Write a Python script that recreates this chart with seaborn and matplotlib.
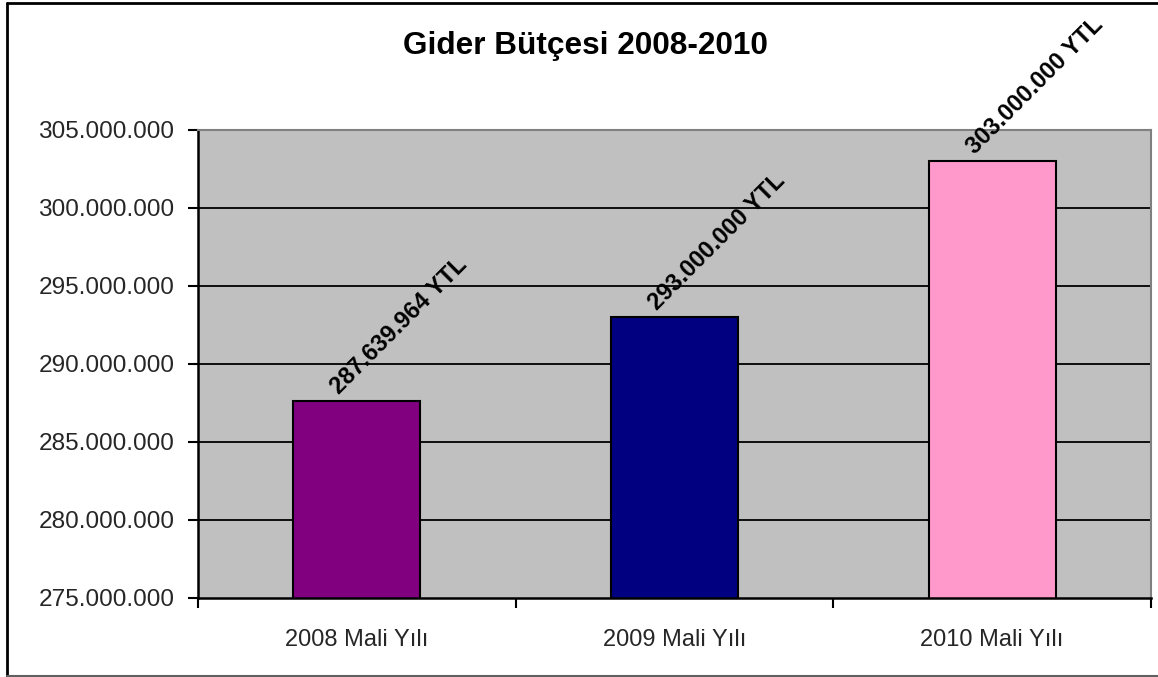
import matplotlib
matplotlib.use("Agg")
import matplotlib.pyplot as plt
from matplotlib.lines import Line2D
from matplotlib.ticker import FixedLocator, FuncFormatter
import seaborn as sns

# Veriler
categories = ["2008 Mali Yılı", "2009 Mali Yılı", "2010 Mali Yılı"]
values = [287639964, 293000000, 303000000]
bar_colors = ["#800080", "#000080", "#FF99CC"]
y_ticks = [275000000, 280000000, 285000000, 290000000, 295000000, 300000000, 305000000]
title = "Gider Bütçesi 2008-2010"


def tr_number(v):
    return f"{v:,.0f}".replace(",", ".")


sns.set_style("white")
plt.rcParams["font.family"] = ["Liberation Sans", "DejaVu Sans"]

W, H = 1158, 677
fig = plt.figure(figsize=(W / 100, H / 100), dpi=100)
fig.patch.set_facecolor("white")

# Grafik alanı (piksel olarak ölçüldü)
left, right, top, bottom = 198, 1151, 130, 598
ax = fig.add_axes([left / W, 1 - bottom / H, (right - left) / W, (bottom - top) / H])
ax.set_facecolor("#C0C0C0")

sns.barplot(x=categories, y=values, hue=categories, palette=bar_colors,
            width=0.4, saturation=1, edgecolor="black", linewidth=1.5,
            legend=False, ax=ax, zorder=2)

ax.set_xlim(-0.5, len(categories) - 0.5)
ax.set_ylim(y_ticks[0], y_ticks[-1])

# Yatay çizgiler
for t in y_ticks[1:-1]:
    ax.axhline(t, color="black", lw=1.3, zorder=0.5)

# Eksenler
ax.yaxis.set_major_locator(FixedLocator(y_ticks))
ax.yaxis.set_major_formatter(FuncFormatter(lambda v, p: tr_number(v)))
ax.tick_params(axis="y", which="major", direction="out", length=7, width=1.5,
               color="black", labelsize=17.6, pad=10, left=True)

ax.set_xticks(range(len(categories)))
ax.set_xticklabels(categories)
ax.set_xticks([i - 0.5 for i in range(len(categories) + 1)], minor=True)
ax.tick_params(axis="x", which="major", length=0, labelsize=17, pad=22)
ax.tick_params(axis="x", which="minor", direction="out", length=7, width=1.5,
               color="black", bottom=True)
ax.set_xlabel("")
ax.set_ylabel("")

for side in ["left", "bottom"]:
    ax.spines[side].set_color("black")
    ax.spines[side].set_linewidth(1.8)
for side in ["top", "right"]:
    ax.spines[side].set_color("#808080")
    ax.spines[side].set_linewidth(1.5)

# Değer etiketleri
for i, v in enumerate(values):
    ax.annotate(f"{tr_number(v)} YTL", xy=(i, v), xytext=(-10, 2),
                textcoords="offset points", rotation=45, rotation_mode="anchor",
                ha="left", va="bottom", fontsize=17, fontweight="bold",
                color="black", zorder=3)

fig.text(585 / W, 1 - 46 / H, title, ha="center", va="center",
         fontsize=22.7, fontweight="bold", color="black")

# Dış çerçeve
fig.add_artist(Line2D([7 / W, 7 / W], [1 - 3 / H, 1 - 676 / H],
                      transform=fig.transFigure, color="black", lw=2))
fig.add_artist(Line2D([7 / W, 1], [1 - 3 / H, 1 - 3 / H],
                      transform=fig.transFigure, color="black", lw=2))
fig.add_artist(Line2D([7 / W, 1], [1 - 676 / H, 1 - 676 / H],
                      transform=fig.transFigure, color="#606060", lw=1.5))

fig.savefig("out.png", dpi=100)
